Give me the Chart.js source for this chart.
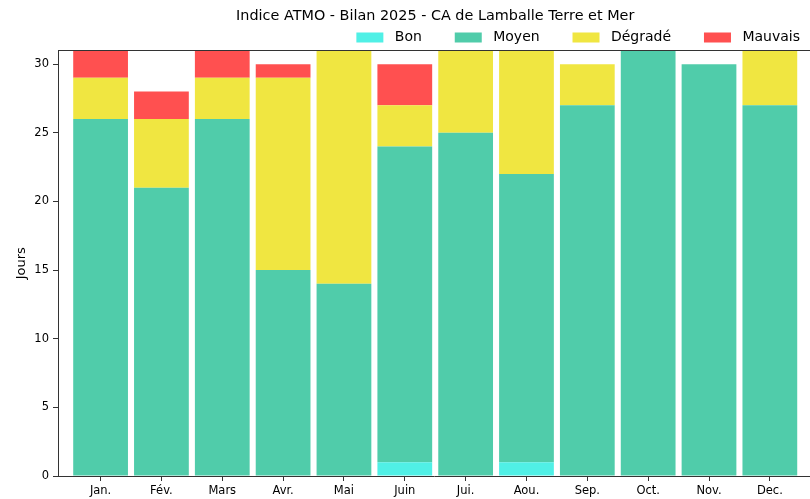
<!DOCTYPE html>
<html><head><meta charset="utf-8">
<script src="https://cdn.jsdelivr.net/npm/chart.js@4/dist/chart.umd.min.js"></script>
<style>html,body{margin:0;padding:0;background:#fff;overflow:hidden}#wrap{width:810px;height:499px}</style>
</head><body><div id="wrap"><canvas id="c" width="810" height="499"></canvas></div>
<script>
const months = ['Jan.','Fév.','Mars','Avr.','Mai','Juin','Jui.','Aou.','Sep.','Oct.','Nov.','Dec.'];
const bon     = [0, 0, 0, 0, 0, 1, 0, 1, 0, 0, 0, 0];
const moyen   = [26,21,26,15,14,23,25,21,27,31,30,27];
const degrade = [3, 5, 3, 14,17, 3, 6, 9, 3, 0, 0, 4];
const mauvais = [2, 2, 2, 1, 0, 3, 0, 0, 0, 0, 0, 0];
const seriesNames = ['Bon','Moyen','Dégradé','Mauvais'];
const seriesColors = ['#50F0E6','#50CCAA','#F0E641','#FF5050'];
const yTicks = [0,5,10,15,20,25,30];
const chartTitle = 'Indice ATMO - Bilan 2025 - CA de Lamballe Terre et Mer';
const yTitle = 'Jours';

Chart.defaults.font.family = "'DejaVu Sans', sans-serif";
Chart.defaults.color = '#000';

const seriesValues = [bon, moyen, degrade, mauvais];
const datasets = seriesNames.map((name, s) => ({
  label: name,
  data: months.map((m, i) => ({x: i, y: seriesValues[s][i]})),
  backgroundColor: seriesColors[s],
  borderWidth: 0,
  barPercentage: 0.9,
  categoryPercentage: 1.0
}));

const nudge = {
  id: 'nudge',
  afterLayout(chart) {
    const l = chart.legend;
    l.top += 4; l.bottom += 4; l.left -= 8; l.right -= 8;
    const t = chart.titleBlock;
    const c = chart.scales.x.getPixelForValue(5.5);
    const w = t.right - t.left;
    t.left = c - w / 2; t.right = c + w / 2;
  }
};
const topSpine = {
  id: 'topSpine',
  afterDraw(chart) {
    const {ctx, chartArea: a} = chart;
    ctx.save();
    ctx.strokeStyle = '#333'; ctx.lineWidth = 1;
    ctx.beginPath();
    ctx.moveTo(a.left, Math.round(a.top) + 0.5);
    ctx.lineTo(a.right, Math.round(a.top) + 0.5);
    ctx.stroke();
    ctx.restore();
  }
};

new Chart(document.getElementById('c'), {
  type: 'bar',
  data: {datasets},
  plugins: [nudge, topSpine],
  options: {
    responsive: false,
    devicePixelRatio: 1,
    animation: false,
    layout: {padding: 0},
    plugins: {
      tooltip: {enabled: false},
      title: {
        display: true, text: chartTitle,
        font: {size: 14.4, weight: 'normal', lineHeight: 1.0}, color: '#000',
        padding: {top: 9, bottom: 1}
      },
      legend: {
        position: 'top', align: 'end',
        labels: {
          boxWidth: 27, boxHeight: 10, padding: 2,
          font: {size: 14}, color: '#000',
          generateLabels(chart) {
            const items = Chart.defaults.plugins.legend.labels.generateLabels(chart);
            items.forEach((it, i) => {
              it.text = ' ' + it.text + (i < items.length - 1 ? '      \u2009\u200A' : '');
              it.lineWidth = 0;
            });
            return items;
          }
        }
      }
    },
    scales: {
      x: {
        type: 'linear', stacked: true, offset: false,
        min: -0.7, max: 11.66,
        afterBuildTicks(scale) { scale.ticks = months.map((m, i) => ({value: i})); },
        afterFit(scale) { scale.height = 23; },
        ticks: {
          callback: (v) => months[v] ?? '',
          font: {size: 11.5}, color: '#000', padding: 3,
          maxRotation: 0, autoSkip: false
        },
        grid: {display: true, drawOnChartArea: false, drawTicks: true, tickLength: 5, color: '#333', offset: false},
        border: {display: true, color: '#333', width: 1}
      },
      y: {
        stacked: true, min: 0, max: 31,
        afterBuildTicks(scale) { scale.ticks = yTicks.map(v => ({value: v})); },
        afterFit(scale) { scale.width = 58; },
        ticks: {font: {size: 11.5}, color: '#000', padding: 4},
        grid: {display: true, drawOnChartArea: false, drawTicks: true, tickLength: 5, color: '#333'},
        border: {display: true, color: '#333', width: 1},
        title: {display: true, text: yTitle, font: {size: 13}, color: '#000', padding: {top: 14, bottom: 0}}
      }
    }
  }
});
</script></body></html>
